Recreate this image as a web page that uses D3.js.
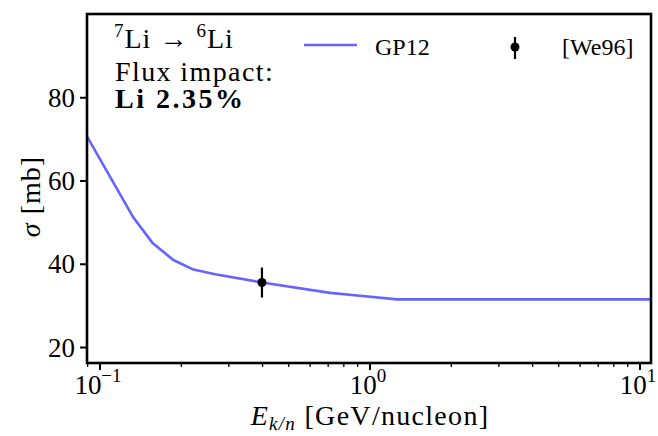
<!DOCTYPE html>
<html>
<head>
<meta charset="utf-8">
<script src="https://cdn.jsdelivr.net/npm/d3@7"></script>
<style>
  body { margin: 0; background: #fff; }
  svg text { font-family: "Liberation Serif", "DejaVu Serif", serif; }
</style>
</head>
<body>
<div id="chart"></div>
<script>
// GP12 model curve
const energy = [0.0895, 0.133, 0.157, 0.187, 0.222, 0.267, 0.398, 0.711, 0.918, 1.26, 11.2];
const sigmaGP12 = [70.6, 51.1, 44.9, 40.9, 38.6, 37.5, 35.5, 33.0, 32.3, 31.45, 31.45];

// [We96] measurement
const dataEnergy = [0.398];
const dataSigma = [35.5];
const dataErr = [3.6];

const yTicks = [20, 40, 60, 80];
const xMajor = [0.1, 1, 10];
const xMajorExp = ["\u22121", "0", "1"];

const W = 658, H = 436;
const margin = { top: 14, right: 7, bottom: 73, left: 87 },
      width = W - margin.left - margin.right,
      height = H - margin.top - margin.bottom;

const svg = d3.select("#chart").append("svg")
    .attr("width", W).attr("height", H);

const g = svg.append("g")
    .attr("transform", `translate(${margin.left},${margin.top})`);

const x = d3.scaleLog().domain([0.08953, 10.98]).range([0, width]);
const y = d3.scaleLinear().domain([16.16, 100]).range([height, 0]);

g.append("clipPath").attr("id", "clip")
  .append("rect").attr("width", width).attr("height", height);

const curve = energy.map((e, i) => ({ e, s: sigmaGP12[i] }));
const line = d3.line().x(d => x(d.e)).y(d => y(d.s));

g.append("path")
    .datum(curve)
    .attr("clip-path", "url(#clip)")
    .attr("d", line)
    .style("fill", "none")
    .style("stroke", "#6464ff")
    .style("stroke-width", 2.6)
    .style("stroke-linejoin", "round");

// data point with error bar
const pts = dataEnergy.map((e, i) => ({ e, s: dataSigma[i], err: dataErr[i] }));
g.selectAll("line.err").data(pts).enter().append("line")
    .attr("x1", d => x(d.e)).attr("x2", d => x(d.e))
    .attr("y1", d => y(d.s - d.err)).attr("y2", d => y(d.s + d.err))
    .style("stroke", "#000").style("stroke-width", 2.2);
g.selectAll("circle.pt").data(pts).enter().append("circle")
    .attr("cx", d => x(d.e)).attr("cy", d => y(d.s)).attr("r", 4.5)
    .style("fill", "#000");

// y axis
const yAxis = g.append("g")
    .call(d3.axisLeft(y).tickValues(yTicks).tickSize(7).tickPadding(5))
    .attr("font-family", null).attr("font-size", null);
yAxis.select(".domain").remove();
yAxis.selectAll(".tick line").style("stroke-width", 2);
yAxis.selectAll(".tick text").style("font-size", "27px").attr("dy", "0.34em");

// x axis: major + minor ticks
const minor = [];
[0.01, 0.1, 1, 10].forEach(p => { for (let k = 2; k <= 9; k++) minor.push(p * k); });
const xMinor = minor.filter(v => v >= x.domain()[0] && v <= x.domain()[1]);

const xg = g.append("g").attr("transform", `translate(0,${height})`);
xg.selectAll("line.major").data(xMajor).enter().append("line")
    .attr("x1", d => x(d)).attr("x2", d => x(d))
    .attr("y1", 0).attr("y2", 7)
    .style("stroke", "#000").style("stroke-width", 2);
xg.selectAll("line.minor").data(xMinor).enter().append("line")
    .attr("x1", d => x(d)).attr("x2", d => x(d))
    .attr("y1", 0).attr("y2", 4)
    .style("stroke", "#000").style("stroke-width", 1.3);
const xl = xg.selectAll("text.xt").data(xMajor).enter().append("text")
    .attr("x", d => x(d) - 2).attr("y", 31)
    .attr("text-anchor", "middle")
    .style("font-size", "27px");
xl.append("tspan").text("10");
xl.append("tspan").attr("dy", -12).style("font-size", "19px")
    .text((d, i) => xMajorExp[i]);

// frame
g.append("rect").attr("width", width).attr("height", height)
    .style("fill", "none").style("stroke", "#000").style("stroke-width", 2.6);

// axis labels
const xlab = svg.append("text")
    .attr("x", margin.left + width / 2 + 1).attr("y", 425)
    .attr("text-anchor", "middle").style("font-size", "28px")
    .style("letter-spacing", "1.3px");
xlab.append("tspan").style("font-style", "italic").text("E");
xlab.append("tspan").attr("dy", 5).style("font-size", "19px").style("font-style", "italic").text("k/n");
xlab.append("tspan").attr("dy", -5).text(" [GeV/nucleon]");

const ylab = svg.append("text")
    .attr("transform", `translate(40,${margin.top + height / 2 + 8}) rotate(-90)`)
    .attr("text-anchor", "middle").style("font-size", "28px")
    .style("letter-spacing", "1px");
ylab.append("tspan").style("font-style", "italic").text("\u03c3");
ylab.append("tspan").text(" [mb]");

// annotation
const t1 = svg.append("text").attr("x", 114).attr("y", 48).style("font-size", "28px")
    .style("letter-spacing", "1px");
t1.append("tspan").attr("dy", -11).style("font-size", "19px").text("7");
t1.append("tspan").attr("dy", 11).text("Li \u2192 ");
t1.append("tspan").attr("dy", -11).style("font-size", "19px").text("6");
t1.append("tspan").attr("dy", 11).text("Li");
svg.append("text").attr("x", 115).attr("y", 81).style("font-size", "28px")
    .style("letter-spacing", "1.4px").text("Flux impact:");
svg.append("text").attr("x", 115).attr("y", 108).style("font-size", "28px")
    .style("font-weight", "bold").style("letter-spacing", "2.5px").text("Li 2.35%");

// legend
svg.append("line").attr("x1", 304).attr("x2", 357).attr("y1", 45).attr("y2", 45)
    .style("stroke", "#6464ff").style("stroke-width", 2.6);
svg.append("text").attr("x", 375).attr("y", 55).style("font-size", "24px").text("GP12");
svg.append("line").attr("x1", 515).attr("x2", 515).attr("y1", 37).attr("y2", 59)
    .style("stroke", "#000").style("stroke-width", 2.2);
svg.append("circle").attr("cx", 515).attr("cy", 47).attr("r", 4.5).style("fill", "#000");
svg.append("text").attr("x", 562).attr("y", 55).style("font-size", "24px").text("[We96]");
</script>
</body>
</html>
